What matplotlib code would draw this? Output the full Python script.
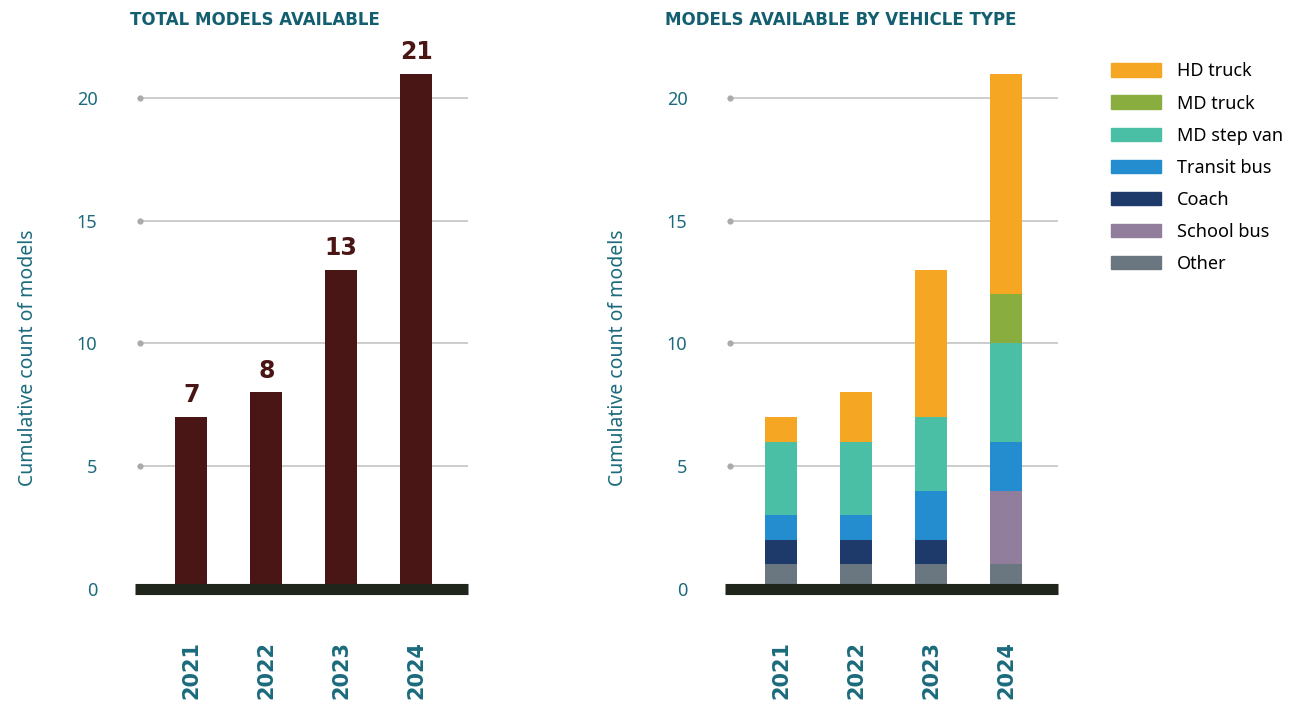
import matplotlib
matplotlib.use("Agg")
import matplotlib.pyplot as plt
from matplotlib.patches import Patch
import numpy as np

years = ["2021", "2022", "2023", "2024"]
totals = [7, 8, 13, 21]

types = ["Other", "School bus", "Coach", "Transit bus", "MD step van", "MD truck", "HD truck"]
other = [1, 1, 1, 1]
school_bus = [0, 0, 0, 3]
coach = [1, 1, 1, 0]
transit_bus = [1, 1, 2, 2]
step_van = [3, 3, 3, 4]
md_truck = [0, 0, 0, 2]
hd_truck = [1, 2, 6, 9]
series = [other, school_bus, coach, transit_bus, step_van, md_truck, hd_truck]
colors = ["#6b7780", "#917e9c", "#1d3a6b", "#238dd0", "#4abfa5", "#8aad3f", "#f5a623"]

yticks = [0, 5, 10, 15, 20]

TEAL = "#1b6b7d"
TITLE = "#135f70"
MAROON = "#4a1515"
BASE = "#20251c"

plt.rcParams['font.family'] = ['Noto Sans', 'DejaVu Sans']

fig = plt.figure(figsize=(12.95, 7.04), dpi=100)

ybot = (704 - 588.7) / 704
ytop = (704 - 40) / 704
ymax = (588.7 - 40) / 24.53

axL = fig.add_axes([135 / 1295, ybot, 333 / 1295, ytop - ybot])
axR = fig.add_axes([725 / 1295, ybot, 333 / 1295, ytop - ybot])

x = np.arange(len(years))
w = 0.43

def style(ax):
    ax.set_xlim(-0.75, 3.69)
    ax.set_ylim(0, ymax)
    for s in ax.spines.values():
        s.set_visible(False)
    gx0 = -0.68
    ax.hlines(yticks[1:], gx0, 3.69, color="#c8c8c8", lw=1.3, zorder=0)
    ax.scatter([gx0] * len(yticks[1:]), yticks[1:], s=12, color="#aaaaaa", zorder=1, clip_on=False)
    ax.axhline(0, color=BASE, lw=8, zorder=5, clip_on=False, solid_capstyle='butt')
    ax.set_yticks(yticks)
    ax.set_yticklabels([str(t) for t in yticks], color=TEAL, fontsize=13)
    ax.tick_params(axis='y', length=0, pad=27)
    ax.set_xticks(x)
    ax.set_xticklabels(years, rotation=90, fontsize=15, fontweight='bold', color=TEAL,
                       family='DejaVu Sans')
    ax.tick_params(axis='x', length=0, pad=38)
    ax.set_ylabel("Cumulative count of models", color=TEAL, fontsize=14)
    ax.yaxis.set_label_coords(-0.292, 0.42)

style(axL)
bars = axL.bar(x, totals, width=w, color=MAROON, zorder=3)
for xi, t in zip(x, totals):
    axL.annotate(str(t), (xi, t), xytext=(0, 7), textcoords="offset points",
                 ha='center', va='bottom', fontsize=17, fontweight='bold', color=MAROON,
                 family='DejaVu Sans')

style(axR)
bottom = np.zeros(len(years))
for vals, c in zip(series, colors):
    axR.bar(x, vals, width=w, bottom=bottom, color=c, zorder=3)
    bottom += np.array(vals)

fig.text(130 / 1295, 1 - 20 / 704, "TOTAL MODELS AVAILABLE", color=TITLE, fontsize=12,
         fontweight='heavy', va='center', ha='left', family='DejaVu Sans')
fig.text(665 / 1295, 1 - 20 / 704, "MODELS AVAILABLE BY VEHICLE TYPE", color=TITLE, fontsize=12,
         fontweight='heavy', va='center', ha='left', family='DejaVu Sans')

handles = [Patch(color=c, label=t) for t, c in zip(types, colors)][::-1]
fig.legend(handles=handles, loc='upper left', bbox_to_anchor=(1106 / 1295, 1 - 57 / 704),
           frameon=False, fontsize=13, handlelength=2.77, handleheight=0.78,
           labelspacing=0.78, handletextpad=0.85, borderaxespad=0, borderpad=0.3)

fig.savefig("out.png", dpi=100)
